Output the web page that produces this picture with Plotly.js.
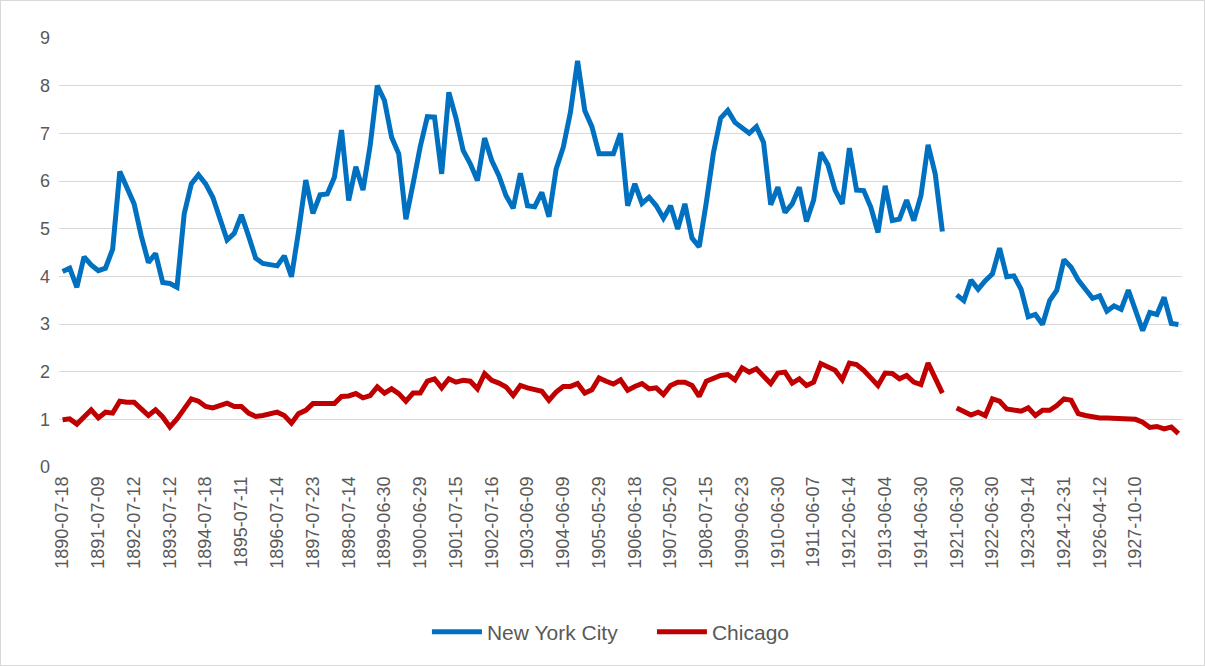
<!DOCTYPE html>
<html>
<head>
<meta charset="utf-8">
<script src="https://cdn.plot.ly/plotly-3.0.1.min.js"></script>
<style>
  body { margin: 0; background: #fff; }
  #plot { width: 1203px; height: 664px; border: 1px solid #d9d9d9; }
</style>
</head>
<body>
<div id="plot"></div>
<script>
// tick labels, one every 5 categories
var tickLabels = ['1890-07-18', '1891-07-09', '1892-07-12', '1893-07-12', '1894-07-18',
    '1895-07-11', '1896-07-14', '1897-07-23', '1898-07-14', '1899-06-30', '1900-06-29',
    '1901-07-15', '1902-07-16', '1903-06-09', '1904-06-09', '1905-05-29', '1906-06-18',
    '1907-05-20', '1908-07-15', '1909-06-23', '1910-06-30', '1911-06-07', '1912-06-14',
    '1913-06-04', '1914-06-30', '1921-06-30', '1922-06-30', '1923-09-14', '1924-12-31',
    '1926-04-12', '1927-10-10'];

var newYork = [
    4.10, 4.17, 3.77, 4.41, 4.24, 4.12, 4.17, 4.57, 6.20, 5.87,
    5.52, 4.85, 4.29, 4.48, 3.87, 3.85, 3.77, 5.31, 5.94, 6.13,
    5.94, 5.66, 5.20, 4.76, 4.90, 5.29, 4.85, 4.38, 4.27, 4.25,
    4.22, 4.43, 3.99, 4.95, 6.02, 5.32, 5.71, 5.73, 6.08, 7.07,
    5.59, 6.30, 5.81, 6.74, 8.00, 7.69, 6.92, 6.57, 5.20, 5.94,
    6.72, 7.35, 7.34, 6.15, 7.86, 7.32, 6.64, 6.36, 6.01, 6.90,
    6.43, 6.11, 5.69, 5.43, 6.16, 5.48, 5.46, 5.76, 5.25, 6.25,
    6.71, 7.44, 8.52, 7.48, 7.14, 6.57, 6.56, 6.57, 7.00, 5.48,
    5.94, 5.53, 5.66, 5.48, 5.22, 5.48, 4.99, 5.52, 4.80, 4.62,
    5.55, 6.60, 7.32, 7.48, 7.23, 7.11, 7.00, 7.14, 6.81, 5.50,
    5.87, 5.34, 5.52, 5.87, 5.15, 5.60, 6.60, 6.34, 5.81, 5.52,
    6.69, 5.81, 5.80, 5.45, 4.92, 5.90, 5.17, 5.20, 5.60, 5.17,
    5.69, 6.76, 6.15, 4.94, null,
    3.61, 3.49, 3.92, 3.73, 3.91, 4.05, 4.59, 3.99, 4.01, 3.73,
    3.15, 3.20, 2.99, 3.49, 3.71, 4.35, 4.19, 3.92, 3.73, 3.54,
    3.59, 3.27, 3.38, 3.31, 3.71, 3.28, 2.86, 3.24, 3.20, 3.56,
    3.01, 2.99
];

var chicago = [
    0.99, 1.01, 0.90, 1.06, 1.20, 1.03, 1.15, 1.13, 1.38, 1.36,
    1.36, 1.22, 1.08, 1.20, 1.05, 0.84, 1.01, 1.22, 1.43, 1.38,
    1.27, 1.24, 1.30, 1.34, 1.27, 1.27, 1.13, 1.06, 1.08, 1.12,
    1.15, 1.08, 0.92, 1.12, 1.19, 1.33, 1.33, 1.35, 1.33, 1.48,
    1.49, 1.54, 1.45, 1.50, 1.68, 1.55, 1.64, 1.54, 1.38, 1.55,
    1.55, 1.80, 1.85, 1.66, 1.85, 1.78, 1.82, 1.80, 1.64, 1.96,
    1.82, 1.76, 1.68, 1.50, 1.71, 1.66, 1.62, 1.59, 1.40, 1.57,
    1.69, 1.69, 1.75, 1.55, 1.62, 1.87, 1.80, 1.74, 1.83, 1.61,
    1.69, 1.75, 1.64, 1.66, 1.52, 1.71, 1.78, 1.78, 1.71, 1.48,
    1.80, 1.85, 1.92, 1.94, 1.83, 2.08, 1.99, 2.06, 1.90, 1.75,
    1.97, 1.99, 1.76, 1.85, 1.71, 1.78, 2.17, 2.10, 2.03, 1.83,
    2.18, 2.15, 2.03, 1.87, 1.71, 1.97, 1.96, 1.85, 1.92, 1.78,
    1.73, 2.18, 1.89, 1.55, null,
    1.24, 1.15, 1.09, 1.15, 1.08, 1.43, 1.38, 1.22, 1.19, 1.17,
    1.24, 1.08, 1.19, 1.19, 1.29, 1.43, 1.40, 1.12, 1.08, 1.05,
    1.03, 1.03, 1.02, 1.03, 1.01, 1.00, 0.94, 0.83, 0.85, 0.80,
    0.84, 0.70
];

var xs = newYork.map((_, i) => i);
var tickVals = tickLabels.map((_, k) => k * 5);

var traces = [
    {
        x: xs, y: newYork, name: 'New York City',
        type: 'scatter', mode: 'lines', connectgaps: false,
        line: { color: '#0070C0', width: 5 }
    },
    {
        x: xs, y: chicago, name: 'Chicago',
        type: 'scatter', mode: 'lines', connectgaps: false,
        line: { color: '#C00000', width: 5 }
    }
];

var layout = {
    width: 1203,
    height: 664,
    margin: { l: 58, r: 22, t: 37, b: 198 },
    paper_bgcolor: '#fff',
    plot_bgcolor: '#fff',
    font: { family: 'Liberation Sans, Arial, sans-serif', size: 18, color: '#595959' },
    showlegend: true,
    legend: {
        orientation: 'h', x: 0.528, xanchor: 'center', y: -0.385, yanchor: 'middle',
        font: { size: 21, color: '#595959' },
        itemwidth: 50, entrywidth: 160
    },
    xaxis: {
        range: [-0.5, xs.length - 0.5],
        tickmode: 'array', tickvals: tickVals, ticktext: tickLabels,
        tickangle: -90, showgrid: false, zeroline: false,
        showline: false, ticks: '', ticklabelstandoff: 5, fixedrange: true
    },
    yaxis: {
        range: [0, 9], dtick: 1, showgrid: true, gridcolor: '#d9d9d9', gridwidth: 1,
        zeroline: false, showline: false, ticks: '', ticklabelstandoff: 8
    }
};

Plotly.newPlot('plot', traces, layout, { staticPlot: true });
</script>
</body>
</html>
